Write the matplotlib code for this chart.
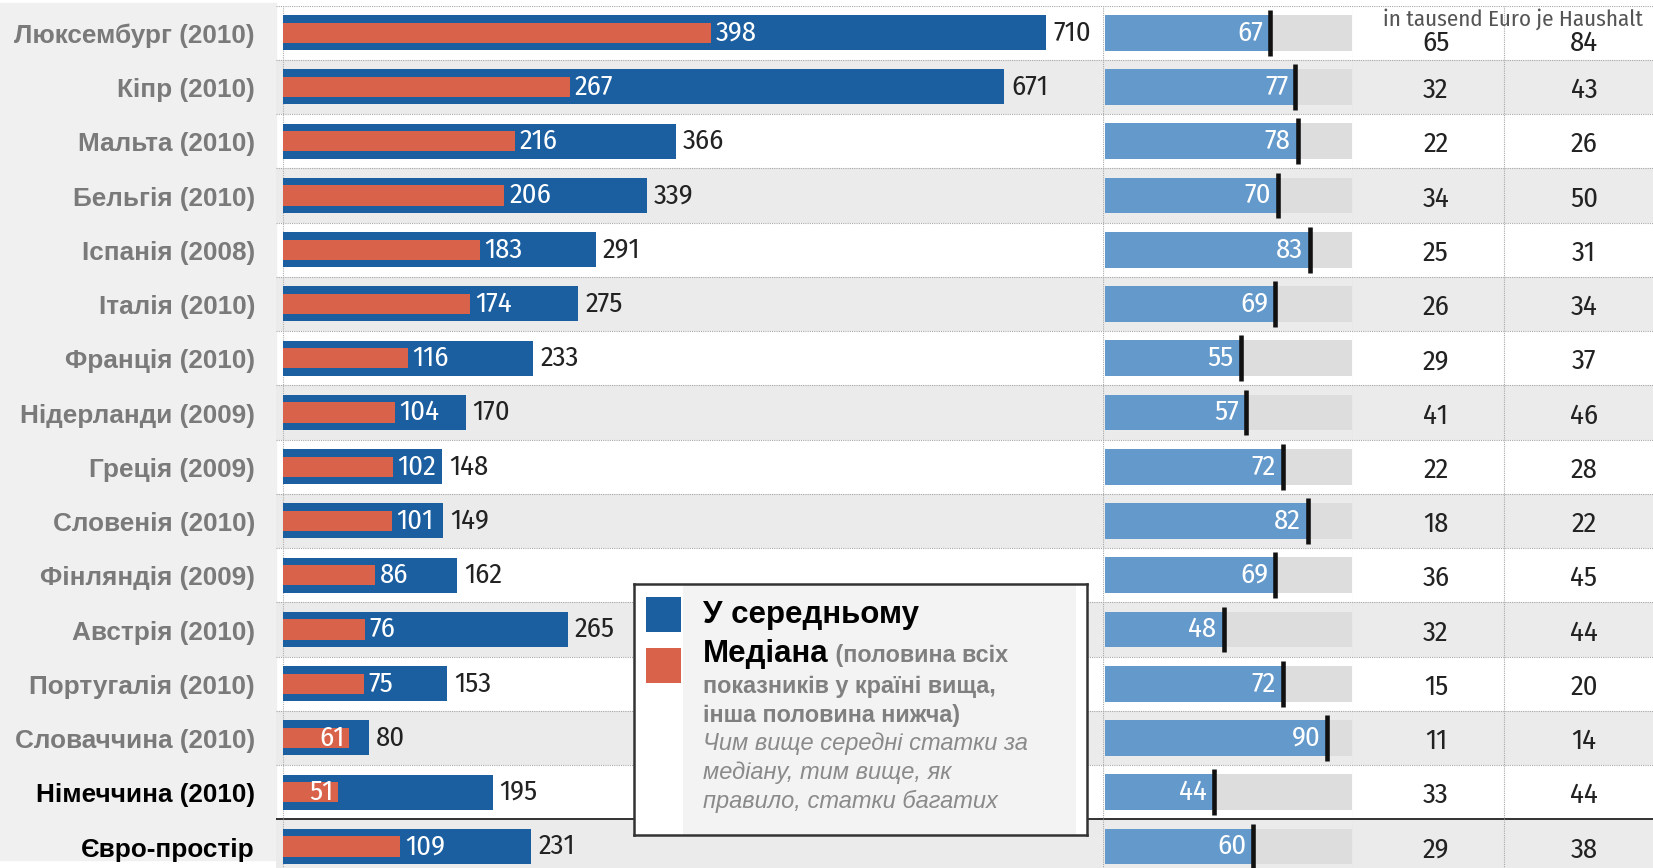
import matplotlib
matplotlib.use('Agg')
import matplotlib.pyplot as plt
from matplotlib import font_manager
from matplotlib.patches import Rectangle

# дані
countries = ['Люксембург (2010)', 'Кіпр (2010)', 'Мальта (2010)', 'Бельгія (2010)',
             'Іспанія (2008)', 'Італія (2010)', 'Франція (2010)', 'Нідерланди (2009)',
             'Греція (2009)', 'Словенія (2010)', 'Фінляндія (2009)', 'Австрія (2010)',
             'Португалія (2010)', 'Словаччина (2010)', 'Німеччина (2010)', 'Євро-простір']
mean = [710, 671, 366, 339, 291, 275, 233, 170, 148, 149, 162, 265, 153, 80, 195, 231]
median = [398, 267, 216, 206, 183, 174, 116, 104, 102, 101, 86, 76, 75, 61, 51, 109]
share = [67, 77, 78, 70, 83, 69, 55, 57, 72, 82, 69, 48, 72, 90, 44, 60]
col_a = [65, 32, 22, 34, 25, 26, 29, 41, 22, 18, 36, 32, 15, 11, 33, 29]
col_b = [84, 43, 26, 50, 31, 34, 37, 46, 28, 22, 45, 44, 20, 14, 44, 38]
highlight = ['Німеччина (2010)', 'Євро-простір']
table_header = 'in tausend Euro je Haushalt'

BLUE = '#1b5fa1'
RED = '#d9634a'
LIGHTBLUE = '#6499cb'
GREYBAR = '#dddddd'
STRIPE = '#ebebeb'

names = {f.name for f in font_manager.fontManager.ttflist}
NARROW = 'Liberation Sans'
for cand in ['Fira Sans Condensed', 'Encode Sans Condensed', 'Asap Condensed',
             'Archivo Narrow', 'Liberation Sans Narrow']:
    if cand in names:
        NARROW = cand
        break
SANS = 'Liberation Sans'
NUM = dict(family=NARROW, fontsize=20.5)

W, H = 1653, 868
fig = plt.figure(figsize=(W / 100, H / 100), dpi=100)
fig.patch.set_facecolor('white')
fig.patches.append(Rectangle((0, 8 / H), 276 / W, (H - 11) / H, transform=fig.transFigure,
                             color='#f0f0f0', zorder=-10))

TOP, BOT = 5.6, 873.6
n = len(countries)
rows = list(range(n))


def add_ax(x0, x1, y0=TOP, y1=BOT):
    ax = fig.add_axes([x0 / W, 1 - y1 / H, (x1 - x0) / W, (y1 - y0) / H])
    ax.set_ylim(n - 0.5, -0.5)
    ax.set_facecolor('none')
    ax.axis('off')
    return ax


# смуги і розділювачі
bg = add_ax(276, W)
bg.set_xlim(0, 1)
for i in rows:
    if i % 2:
        bg.axhspan(i - 0.5, i + 0.5, color=STRIPE, lw=0)
    if i == n - 1:
        bg.axhline(i - 0.5, color='#222222', lw=1.3)
    else:
        bg.axhline(i - 0.5, color='#a8a8a8', lw=0.8, ls=(0, (1, 1)))

# підписи країн
lab = add_ax(0, 276)
lab.set_xlim(0, 276)
for i, c in enumerate(countries):
    lab.text(255, i + 0.06, c, ha='right', va='center', fontsize=18.8, fontweight='bold',
             family=SANS, color='black' if c in highlight else '#7a7a7a')

# основна панель
ax1 = add_ax(276, 1103)
ax1.set_xlim(-6.5, 763.1)
ax1.axvline(0, color='#b0b0b0', lw=0.8, ls=(0, (1, 1)))
ax1.barh(rows, mean, height=0.645, color=BLUE, zorder=2)
ax1.barh(rows, median, height=0.37, color=RED, zorder=3)
for i in rows:
    ax1.annotate(str(mean[i]), (mean[i], i), xytext=(5, 0), textcoords='offset points',
                 ha='left', va='center', color='#222222', zorder=4, **NUM)
    inside = median[i] < 70
    ax1.annotate(str(median[i]), (median[i], i), xytext=(-3 if inside else 3.5, 0),
                 textcoords='offset points', ha='right' if inside else 'left', va='center',
                 color='white', zorder=4, **NUM)

# друга панель (у %)
ax2 = add_ax(1103, 1353)
ax2.set_xlim(-0.81, 100.4)
ax2.axvline(ax2.get_xlim()[0], color='#a8a8a8', lw=0.8, ls=(0, (1, 1)))
ax2.axvline(ax2.get_xlim()[1], color='#a8a8a8', lw=0.8, ls=(0, (1, 1)))
ax2.barh(rows, [100] * n, height=0.66, color=GREYBAR, zorder=2)
ax2.barh(rows, share, height=0.66, color=LIGHTBLUE, zorder=3)
ax2.vlines(share, [r - 0.42 for r in rows], [r + 0.42 for r in rows],
           color='#111111', lw=3.3, zorder=4)
for i in rows:
    ax2.annotate(str(share[i]), (share[i], i), xytext=(-5, 0), textcoords='offset points',
                 ha='right', va='center', color='white', zorder=5, **NUM)

# таблиця
ax3 = add_ax(1353, W)
ax3.set_xlim(-0.56, 1.466)
ax3.axvline(0.46, color='#a8a8a8', lw=0.8, ls=(0, (1, 1)))
for i in rows:
    dy = 0.19 if i == 0 else 0.06
    ax3.text(0, i + dy, str(col_a[i]), ha='center', va='center', color='#222222', **NUM)
    ax3.text(1, i + dy, str(col_b[i]), ha='center', va='center', color='#222222', **NUM)
ax3.text(0.52, -0.25, table_header, ha='center', va='center', fontsize=16.5,
         family=NARROW, color='#555555')

# легенда
leg = fig.add_axes([634 / W, 1 - 835 / H, 453 / W, 251 / H])
leg.set_xlim(0, 453)
leg.set_ylim(251, 0)
leg.set_xticks([])
leg.set_yticks([])
leg.set_facecolor('white')
for s in leg.spines.values():
    s.set_color('#333333')
    s.set_linewidth(1.8)
leg.add_patch(Rectangle((49, 0), 393, 251, color='#f3f3f3', lw=0))
leg.add_patch(Rectangle((12, 13), 35, 35, color=BLUE, lw=0))
leg.add_patch(Rectangle((12, 64), 35, 35, color=RED, lw=0))
leg.text(69, 39, 'У середньому', fontsize=22.5, fontweight='bold', family=SANS,
         va='baseline', color='black')
t_med = leg.text(69, 78, 'Медіана', fontsize=22.5, fontweight='bold', family=SANS,
                 va='baseline', color='black')
leg.annotate(' (половина всіх', xy=(1, 0), xycoords=t_med, xytext=(0, 1.5),
             textcoords='offset points', va='bottom', fontsize=16.8, fontweight='bold',
             family=SANS, color='#808080')
leg.text(69, 109, 'показників у країні вища,', fontsize=16.8, fontweight='bold',
         family=SANS, va='baseline', color='#808080')
leg.text(69, 138, 'інша половина нижча)', fontsize=16.8, fontweight='bold',
         family=SANS, va='baseline', color='#808080')
for k, line in enumerate(['Чим вище середні статки за', 'медіану, тим вище, як',
                          'правило, статки багатих']):
    leg.text(69, 166 + 29 * k, line, fontsize=17, style='italic', family=SANS,
             va='baseline', color='#8a8a8a')

fig.savefig('out.png', dpi=100)
